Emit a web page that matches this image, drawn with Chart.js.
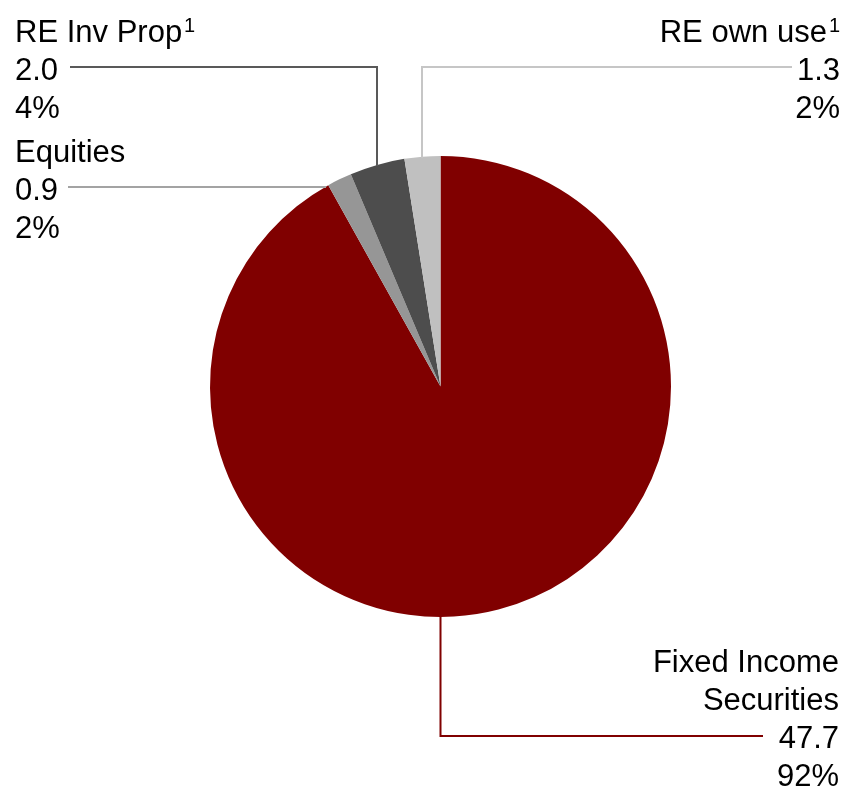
<!DOCTYPE html>
<html>
<head>
<meta charset="utf-8">
<title>Investment portfolio</title>
<script src="https://cdn.jsdelivr.net/npm/chart.js@4.4.0/dist/chart.umd.min.js"></script>
<style>
  html, body { margin: 0; padding: 0; background: #ffffff; }
  #wrap { width: 848px; height: 789px; position: relative; }
</style>
</head>
<body>
<div id="wrap"><canvas id="pie" width="848" height="789"></canvas></div>
<script>
// Portfolio breakdown, clockwise from 12 o'clock
const categories = ['Fixed Income Securities', 'Equities', 'RE Inv Prop', 'RE own use'];
const nameLines = [['Fixed Income', 'Securities'], ['Equities'], ['RE Inv Prop'], ['RE own use']];
const footnotes = ['', '', '1', '1'];
const values = [47.7, 0.9, 2.0, 1.3];
const shareLabels = ['92%', '2%', '4%', '2%'];

// Styling
const sliceColors = ['#800000', '#969696', '#4d4d4d', '#c0c0c0'];
const leaderColors = ['#800000', '#a3a3a3', '#595959', '#c6c6c6'];
const FONT_FAMILY = '"Liberation Sans", Arial, Helvetica, sans-serif';
const FONT_SIZE = 31;
const SUP_SIZE = 20;
const SUP_RISE = 10;
const LINE_H = 38;

// Where each label block sits and how its leader line runs
const labelLayout = [
  { align: 'right', x: 839, baseline: 672, leader: 'down', elbowY: 736, endX: 763 },
  { align: 'left',  x: 15,  baseline: 162, leader: 'flat', y: 187, startX: 68 },
  { align: 'left',  x: 15,  baseline: 42,  leader: 'elbow', y: 67, startX: 70 },
  { align: 'right', x: 840, baseline: 42,  leader: 'elbow', y: 67, startX: 792 }
];

const calloutPlugin = {
  id: 'callouts',
  afterDraw(chart) {
    const ctx = chart.ctx;
    const meta = chart.getDatasetMeta(0);
    ctx.save();
    meta.data.forEach((arc, i) => {
      const p = arc.getProps(['x', 'y', 'startAngle', 'endAngle', 'outerRadius'], true);
      const cx = p.x, cy = p.y, r = p.outerRadius;
      const mid = (p.startAngle + p.endAngle) / 2;
      const L = labelLayout[i];

      // leader line
      ctx.strokeStyle = leaderColors[i];
      ctx.lineWidth = 2;
      ctx.lineCap = 'butt';
      ctx.lineJoin = 'miter';
      ctx.beginPath();
      if (L.leader === 'down') {
        ctx.moveTo(cx, cy + r - 1);
        ctx.lineTo(cx, L.elbowY);
        ctx.lineTo(L.endX, L.elbowY);
      } else if (L.leader === 'flat') {
        const dy = L.y - cy;
        const edgeX = cx - Math.sqrt(Math.max(r * r - dy * dy, 0));
        ctx.moveTo(L.startX, L.y);
        ctx.lineTo(edgeX + 1, L.y);
      } else {
        const ax = Math.round(cx + r * Math.cos(mid));
        const dx = ax - cx;
        const edgeY = cy - Math.sqrt(Math.max(r * r - dx * dx, 0));
        ctx.moveTo(L.startX, L.y);
        ctx.lineTo(ax, L.y);
        ctx.lineTo(ax, edgeY + 1);
      }
      ctx.stroke();

      // label text
      ctx.fillStyle = '#000000';
      ctx.textBaseline = 'alphabetic';
      const lines = nameLines[i];
      let base = L.baseline;
      lines.forEach((txt, k) => {
        const sup = (k === lines.length - 1) ? footnotes[i] : '';
        ctx.font = FONT_SIZE + 'px ' + FONT_FAMILY;
        const w = ctx.measureText(txt).width;
        ctx.font = SUP_SIZE + 'px ' + FONT_FAMILY;
        const ws = sup ? ctx.measureText(sup).width : 0;
        const gap = sup ? 2 : 0;
        const x0 = L.align === 'left' ? L.x : L.x - w - ws - gap;
        ctx.font = FONT_SIZE + 'px ' + FONT_FAMILY;
        ctx.textAlign = 'left';
        ctx.fillText(txt, x0, base);
        if (sup) {
          ctx.font = SUP_SIZE + 'px ' + FONT_FAMILY;
          ctx.fillText(sup, x0 + w + gap, base - SUP_RISE);
        }
        base += LINE_H;
      });
      ctx.font = FONT_SIZE + 'px ' + FONT_FAMILY;
      ctx.textAlign = L.align;
      ctx.fillText(values[i].toFixed(1), L.x, base);
      base += LINE_H;
      ctx.fillText(shareLabels[i], L.x, base);
    });
    ctx.restore();
  }
};

new Chart(document.getElementById('pie'), {
  type: 'pie',
  data: {
    labels: categories,
    datasets: [{
      data: values,
      backgroundColor: sliceColors,
      borderWidth: 0,
      hoverOffset: 0
    }]
  },
  options: {
    responsive: false,
    animation: false,
    events: [],
    layout: { padding: { left: 210, right: 177, top: 156, bottom: 172 } },
    plugins: {
      legend: { display: false },
      tooltip: { enabled: false }
    }
  },
  plugins: [calloutPlugin]
});
</script>
</body>
</html>
